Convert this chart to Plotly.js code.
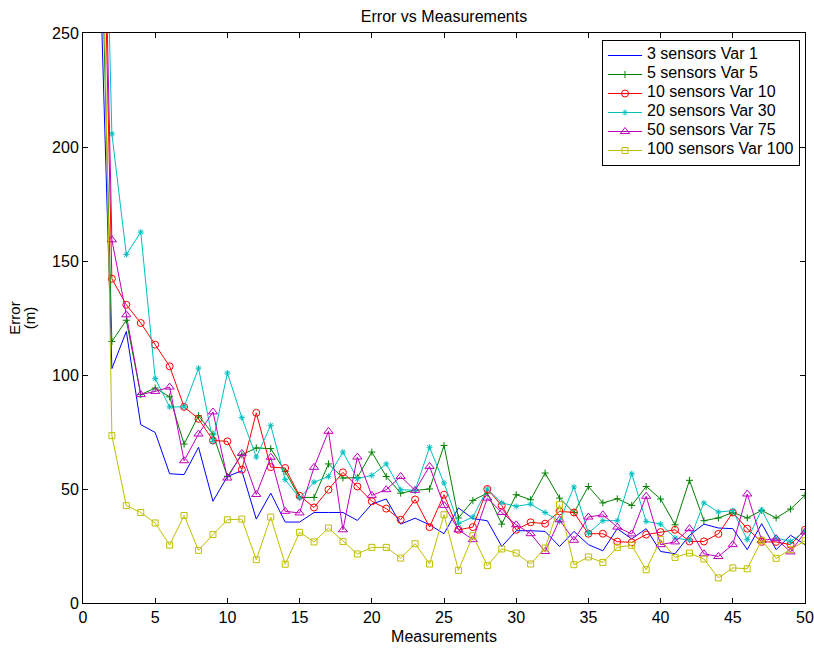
<!DOCTYPE html>
<html>
<head>
<meta charset="utf-8">
<script src="https://cdn.plot.ly/plotly-3.0.1.min.js"></script>
<style>
  html, body { margin: 0; padding: 0; background: #ffffff; }
  #chart { width: 814px; height: 648px; }
</style>
</head>
<body>
<div id="chart"></div>
<script>
// Measurement index 1..50
const measurements = [
  1, 2, 3, 4, 5, 6, 7, 8, 9, 10,
  11, 12, 13, 14, 15, 16, 17, 18, 19, 20,
  21, 22, 23, 24, 25, 26, 27, 28, 29, 30,
  31, 32, 33, 34, 35, 36, 37, 38, 39, 40,
  41, 42, 43, 44, 45, 46, 47, 48, 49, 50
];

// Position error (m) per configuration
const err3s = [
  317, 102.8, 119.1, 78.2, 74.8, 56.7, 56.3, 68.3, 44.6, 55.5,
  58.0, 36.8, 48.2, 35.5, 35.5, 39.7, 39.7, 39.7, 36.2, 43.4,
  45.6, 34.6, 37.2, 34.3, 30.4, 41.7, 37.0, 36.1, 24.8, 31.7,
  31.7, 31.4, 24.8, 31.4, 25.6, 22.9, 32.6, 28.1, 32.6, 22.6,
  21.6, 29.7, 34.6, 32.9, 32.6, 23.4, 34.8, 23.4, 29.7, 25.6
];
const err5s = [
  360, 114.7, 124.0, 91.4, 94.3, 90.4, 69.7, 82.1, 74.1, 55.5,
  65.0, 68.0, 67.7, 57.7, 46.3, 46.3, 61.0, 54.8, 55.0, 66.2,
  55.5, 48.2, 49.4, 50.0, 69.1, 37.3, 45.0, 48.2, 34.6, 47.5,
  45.3, 57.0, 46.0, 39.7, 51.1, 43.9, 45.7, 42.8, 51.1, 45.6,
  34.3, 53.8, 36.1, 37.3, 39.7, 37.3, 40.6, 37.3, 41.2, 47.2
];
const err10s = [
  426, 142.2, 130.8, 122.8, 113.3, 103.8, 86.0, 80.8, 71.3, 70.9,
  58.5, 83.4, 59.6, 59.2, 47.0, 41.9, 49.7, 57.3, 51.1, 44.6,
  41.4, 36.5, 45.4, 33.3, 47.5, 32.1, 33.3, 50.0, 42.7, 32.1,
  35.4, 34.8, 40.2, 39.7, 30.4, 30.4, 26.9, 26.6, 30.0, 31.1,
  32.1, 27.0, 27.0, 30.3, 39.7, 32.6, 26.8, 26.8, 25.6, 32.1
];
const err20s = [
  463, 205.8, 152.8, 162.7, 98.4, 86.0, 86.0, 103.0, 70.9, 100.9,
  81.3, 64.0, 77.9, 54.1, 46.0, 53.0, 55.5, 66.2, 54.5, 56.0,
  61.0, 49.7, 49.4, 68.3, 52.6, 34.8, 37.7, 50.0, 43.9, 42.4,
  43.4, 39.7, 35.8, 50.9, 30.7, 36.1, 36.1, 56.7, 35.8, 34.6,
  28.5, 27.5, 43.9, 39.9, 40.5, 27.8, 40.9, 28.5, 27.0, 31.4
];
const err50s = [
  451, 159.3, 126.4, 91.4, 92.8, 94.7, 62.4, 74.1, 83.8, 54.8,
  65.6, 47.6, 63.9, 40.2, 39.5, 59.5, 75.3, 32.1, 64.0, 47.2,
  49.7, 55.5, 49.4, 59.9, 42.8, 32.1, 27.8, 46.0, 39.7, 34.3,
  30.4, 22.6, 36.5, 27.5, 37.7, 38.7, 33.3, 30.3, 46.8, 25.6,
  26.8, 32.6, 21.6, 20.4, 25.6, 47.8, 27.5, 28.2, 22.4, 31.1
];
const err100s = [
  440, 73.4, 42.7, 39.7, 35.1, 25.4, 38.4, 23.1, 30.0, 36.5,
  36.8, 19.0, 37.7, 17.0, 31.0, 26.8, 32.9, 27.0, 21.5, 24.4,
  24.4, 19.7, 26.0, 17.1, 38.7, 14.3, 29.5, 16.4, 23.7, 21.9,
  17.1, 24.1, 43.1, 16.8, 20.2, 17.8, 24.4, 25.3, 14.6, 27.8,
  20.0, 21.9, 19.3, 11.0, 15.4, 15.0, 27.5, 19.6, 23.4, 27.3
];

const seriesNames = [
  '3 sensors Var 1',
  '5 sensors Var 5',
  '10 sensors Var 10',
  '20 sensors Var 30',
  '50 sensors Var 75',
  '100 sensors Var 100'
];

const FONT = '"Liberation Sans", Arial, Helvetica, sans-serif';

// Text line spacing follows the element's base font size; the words
// themselves are rendered larger so stacked lines stay tight.
function sized(text, px) {
  return '<span style="font-size:' + px + 'px">' + text + '</span>';
}

function series(name, y, color, symbol, size) {
  const t = {
    type: 'scatter',
    x: measurements,
    y: y,
    name: sized(name, 16),
    mode: symbol ? 'lines+markers' : 'lines',
    line: { color: color, width: 1 }
  };
  if (symbol) {
    t.marker = {
      symbol: symbol,
      size: size,
      color: color,
      line: { color: color, width: 1 }
    };
  }
  return t;
}

const traces = [
  series(seriesNames[0], err3s,   '#0000ff', null, 0),
  series(seriesNames[1], err5s,   '#008000', 'cross-thin-open', 5),
  series(seriesNames[2], err10s,  '#ff0000', 'circle-open', 7),
  series(seriesNames[3], err20s,  '#00bfbf', 'asterisk-open', 5),
  series(seriesNames[4], err50s,  '#bf00bf', 'triangle-up-open', 8),
  series(seriesNames[5], err100s, '#bfbf00', 'square-open', 6)
];

const axisCommon = {
  showline: true,
  linecolor: '#000000',
  linewidth: 1,
  mirror: 'ticks',
  ticks: 'inside',
  ticklen: 5,
  tickwidth: 1,
  tickcolor: '#000000',
  showgrid: false,
  zeroline: false,
  ticklabeloverflow: 'allow',
  tickfont: { family: FONT, size: 16, color: '#000000' }
};

const layout = {
  width: 814,
  height: 648,
  margin: { l: 83, r: 9, t: 33, b: 45 },
  paper_bgcolor: '#ffffff',
  plot_bgcolor: '#ffffff',
  font: { family: FONT, size: 16, color: '#000000' },
  title: {
    text: 'Error vs Measurements',
    font: { family: FONT, size: 16, color: '#000000' },
    x: 0.5,
    xref: 'paper',
    xanchor: 'center',
    y: 1 - 16 / 648,
    yref: 'container',
    yanchor: 'middle'
  },
  xaxis: Object.assign({}, axisCommon, {
    range: [0, 50],
    tick0: 0,
    dtick: 5,
    title: { text: 'Measurements', font: { family: FONT, size: 16, color: '#000000' }, standoff: 5 }
  }),
  yaxis: Object.assign({}, axisCommon, {
    range: [0, 250],
    tick0: 0,
    dtick: 50,
    title: {
      text: sized('Error', 15) + '<br>' + sized('(m)', 15),
      font: { family: FONT, size: 11.5, color: '#000000' },
      standoff: 14
    }
  }),
  showlegend: true,
  legend: {
    x: (800 - 83) / 722,
    xanchor: 'right',
    y: (603 - 40) / 570,
    yanchor: 'top',
    bgcolor: '#ffffff',
    bordercolor: '#000000',
    borderwidth: 1,
    font: { family: FONT, size: 10, color: '#000000' },
    itemwidth: 34,
    tracegroupgap: 0
  }
};

Plotly.newPlot('chart', traces, layout, { staticPlot: true, displayModeBar: false });
</script>
</body>
</html>
